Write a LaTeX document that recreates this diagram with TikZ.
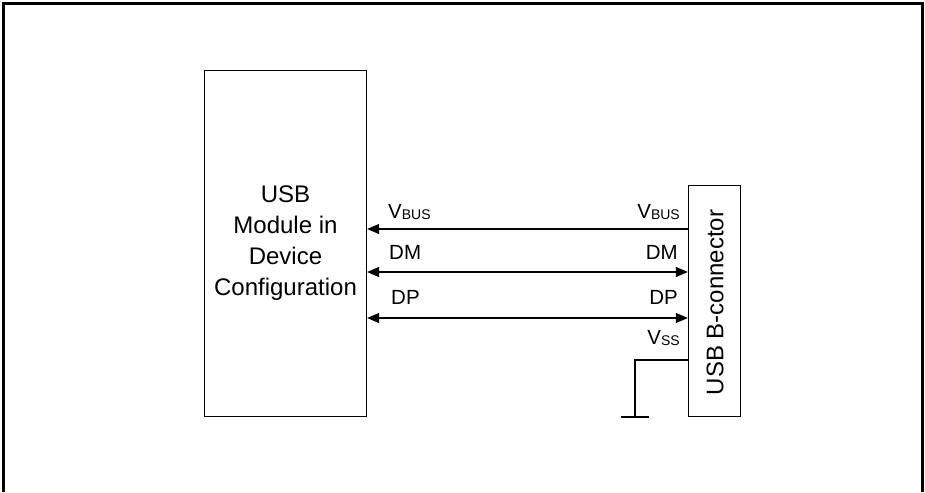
\documentclass[tikz,border=0pt]{standalone}
\usepackage{fontspec}
\setmainfont{Liberation Sans}
\usetikzlibrary{arrows.meta}
\newcommand{\sig}[2]{#1{\fontsize{14}{14}\selectfont\raisebox{-1.5pt}{#2}}}
\tikzset{
  box/.style={draw, line width=1.3pt, inner sep=0pt},
  big/.style={font=\fontsize{24}{31}\selectfont, align=center},
  lbl/.style={font=\fontsize{20.5}{22}\selectfont, inner sep=0pt},
  wire/.style={line width=1.3pt},
  tri/.tip={Triangle[length=12pt,width=10pt]},
}
\begin{document}
\begin{tikzpicture}[x=1pt,y=-1pt]
\useasboundingbox (0,0) rectangle (925,492);
\draw[line width=2.5pt] (3.5,492) -- (3.5,3.5) -- (922.5,3.5) -- (922.5,492);
\node[box, minimum width=162pt, minimum height=346pt] (mod) at (285.5,243.5) {};
\node[big] (modtxt) at (285.5,243) {USB\\Module in\\Device\\Configuration};
\node[box, minimum width=52pt, minimum height=231pt] (conn) at (714.5,301) {};
\node[big, rotate=90] (conntxt) at (715,302.5) {USB B-connector};
\coordinate (y1) at (0,229);
\coordinate (y2) at (0,272);
\coordinate (y3) at (0,318);
\coordinate (y4) at (0,360);
\draw[wire, -tri] (conn.west |- y1) -- (mod.east |- y1);
\draw[wire, tri-tri] (mod.east |- y2) -- (conn.west |- y2);
\draw[wire, tri-tri] (mod.east |- y3) -- (conn.west |- y3);
\coordinate (gc) at (635,360);
\coordinate (gb) at (635,417);
\coordinate (gl) at (621,417);
\coordinate (gr) at (649,417);
\draw[wire] (conn.west |- y4) -- (gc) -- (gb);
\draw[wire] (gl) -- (gr);
\node[lbl, anchor=west] (vbl) at (388,212) {\sig{V}{BUS}};
\node[lbl, anchor=east] (vbr) at (680,212) {\sig{V}{BUS}};
\node[lbl, anchor=west] (dml) at (389,252) {DM};
\node[lbl, anchor=east] (dmr) at (678,252) {DM};
\node[lbl, anchor=west] (dpl) at (391,297) {DP};
\node[lbl, anchor=east] (dpr) at (678,297) {DP};
\node[lbl, anchor=east] (vss) at (680,338) {\sig{V}{SS}};
\end{tikzpicture}
\end{document}
